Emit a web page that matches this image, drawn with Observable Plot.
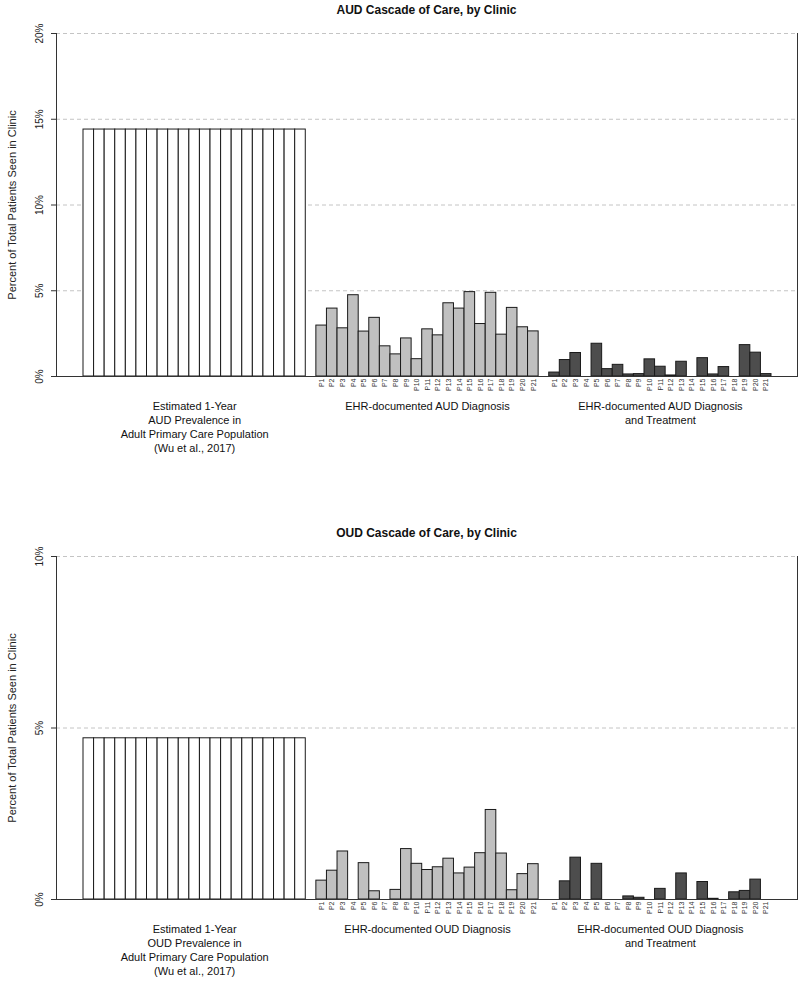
<!DOCTYPE html>
<html>
<head>
<meta charset="utf-8">
<script src="https://cdn.jsdelivr.net/npm/d3@7"></script>
<script src="https://cdn.jsdelivr.net/npm/@observablehq/plot@0.6"></script>
<style>
  html, body { margin: 0; padding: 0; background: #fff; }
  body { width: 800px; height: 981px; overflow: hidden; font-family: "Liberation Sans", Arial, sans-serif; }
  .title { margin-left: 56px; width: 741px; height: 20px; line-height: 20px; text-align: center; font-weight: bold; font-size: 12px; color: #111; }
  svg { display: block; }
</style>
</head>
<body>
<div id="root"></div>
<script>
const clinics = ["P1","P2","P3","P4","P5","P6","P7","P8","P9","P10","P11","P12","P13","P14","P15","P16","P17","P18","P19","P20","P21"];

// AUD panel (% of total patients seen in clinic)
const audPrevalence = [14.4,14.4,14.4,14.4,14.4,14.4,14.4,14.4,14.4,14.4,14.4,14.4,14.4,14.4,14.4,14.4,14.4,14.4,14.4,14.4,14.4];
const audDiagnosis = [2.97,3.96,2.81,4.74,2.62,3.42,1.76,1.29,2.22,1.01,2.75,2.40,4.27,3.96,4.92,3.06,4.88,2.44,4.00,2.87,2.63];
const audTreatment = [0.23,0.96,1.37,0,1.91,0.43,0.68,0.12,0.14,1.00,0.57,0.06,0.86,0,1.07,0.12,0.55,0,1.83,1.39,0.14];
const audTicks = [0,5,10,15,20];
const audGroupLabels = [
  "Estimated 1-Year\nAUD Prevalence in\nAdult Primary Care Population\n(Wu et al., 2017)",
  "EHR-documented AUD Diagnosis",
  "EHR-documented AUD Diagnosis\nand Treatment"
];

// OUD panel
const oudPrevalence = [4.7,4.7,4.7,4.7,4.7,4.7,4.7,4.7,4.7,4.7,4.7,4.7,4.7,4.7,4.7,4.7,4.7,4.7,4.7,4.7,4.7];
const oudDiagnosis = [0.55,0.84,1.40,0,1.06,0.24,0,0.28,1.47,1.04,0.86,0.94,1.19,0.76,0.93,1.35,2.61,1.34,0.27,0.74,1.03];
const oudTreatment = [0,0.53,1.22,0,1.04,0,0,0.09,0.05,0,0.31,0,0.76,0,0.51,0.02,0,0.21,0.25,0.58,0];
const oudTicks = [0,5,10];
const oudGroupLabels = [
  "Estimated 1-Year\nOUD Prevalence in\nAdult Primary Care Population\n(Wu et al., 2017)",
  "EHR-documented OUD Diagnosis",
  "EHR-documented OUD Diagnosis\nand Treatment"
];

const yTitle = "Percent of Total Patients Seen in Clinic";
const groups = ["prev", "dx", "tx"];

function makeChart({prev, dx, tx, ticks, labels, height, marginBottom}) {
  const domain = [
    ...clinics.map(c => "prev-" + c), "gap1",
    ...clinics.map(c => "dx-" + c), "gap2",
    ...clinics.map(c => "tx-" + c)
  ];
  const bars = [
    ...clinics.map((c, i) => ({key: "prev-" + c, value: prev[i], group: "prev"})),
    ...clinics.map((c, i) => ({key: "dx-" + c, value: dx[i], group: "dx"})),
    ...clinics.map((c, i) => ({key: "tx-" + c, value: tx[i], group: "tx"}))
  ].filter(d => d.value > 0);
  const tickLabels = [
    ...clinics.map(c => ({key: "dx-" + c, label: c})),
    ...clinics.map(c => ({key: "tx-" + c, label: c}))
  ];
  const groupText = groups.map((g, i) => ({key: g + "-P11", label: labels[i]}));
  const yMax = ticks[ticks.length - 1];

  return Plot.plot({
    width: 800,
    height,
    marginLeft: 56,
    marginRight: 3,
    marginTop: 13,
    marginBottom,
    style: {fontFamily: "'Liberation Sans', Arial, sans-serif", background: "#fff", overflow: "visible"},
    x: {type: "band", domain, padding: 0, insetLeft: 27, insetRight: 26, axis: null},
    y: {domain: [0, yMax], axis: null},
    color: {domain: groups, range: ["#ffffff", "#c0c0c0", "#4d4d4d"]},
    marks: [
      Plot.ruleY(ticks.filter(d => d > 0), {y: d => d, stroke: "#c4c4c4", strokeDasharray: "4,3", strokeWidth: 1}),
      Plot.barY(bars, {x: "key", y: "value", fill: "group", stroke: "#1a1a1a", strokeWidth: 1, inset: 0}),
      Plot.ruleY([0], {stroke: "#333", strokeWidth: 1}),
      Plot.frame({anchor: "left", stroke: "#333"}),
      Plot.frame({anchor: "right", stroke: "#333"}),
      Plot.axisY({ticks, tickSize: 5, tickFormat: () => "", label: null, stroke: "#333"}),
      Plot.text(ticks, {y: d => d, text: d => d + "%", frameAnchor: "left", dx: -17, rotate: -90, textAnchor: "middle", lineAnchor: "middle", fontSize: 10, fill: "#222"}),
      Plot.text([yTitle], {text: d => d, frameAnchor: "left", dx: -44, rotate: -90, textAnchor: "middle", lineAnchor: "middle", fontSize: 11, fill: "#222"}),
      Plot.text(tickLabels, {x: "key", text: "label", frameAnchor: "bottom", rotate: -90, textAnchor: "end", lineAnchor: "middle", dy: 2, fontSize: 7, fill: "#333"}),
      Plot.text(groupText, {x: "key", text: "label", frameAnchor: "bottom", lineAnchor: "top", dy: 24, fontSize: 11, lineHeight: 1.27, fill: "#111"})
    ]
  });
}

const root = document.getElementById("root");
function addTitle(t) {
  const d = document.createElement("div");
  d.className = "title";
  d.textContent = t;
  root.appendChild(d);
}
addTitle("AUD Cascade of Care, by Clinic");
root.appendChild(makeChart({prev: audPrevalence, dx: audDiagnosis, tx: audTreatment, ticks: audTicks, labels: audGroupLabels, height: 503, marginBottom: 147}));
addTitle("OUD Cascade of Care, by Clinic");
root.appendChild(makeChart({prev: oudPrevalence, dx: oudDiagnosis, tx: oudTreatment, ticks: oudTicks, labels: oudGroupLabels, height: 438, marginBottom: 82}));
</script>
</body>
</html>
